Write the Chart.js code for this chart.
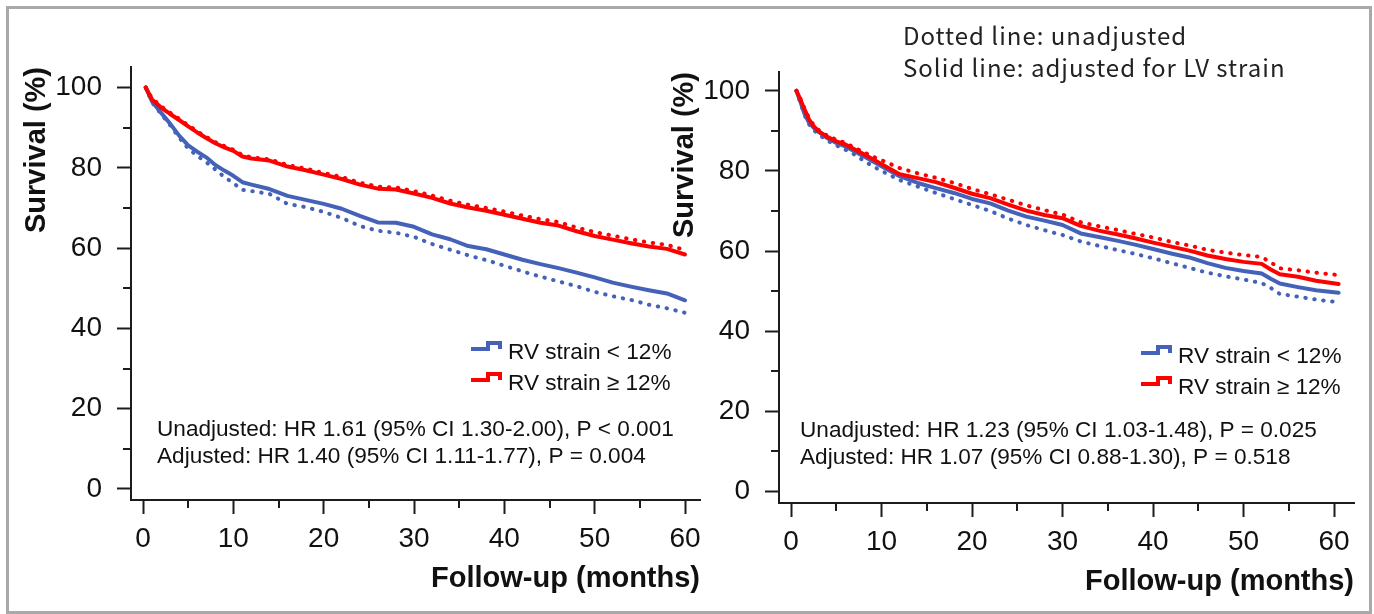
<!DOCTYPE html>
<html>
<head>
<meta charset="utf-8">
<script src="https://cdn.jsdelivr.net/npm/chart.js@4.4.1/dist/chart.umd.min.js"></script>
<style>
  html, body { margin: 0; padding: 0; background: #fff; }
  #frame { position: absolute; left: 6px; top: 6px; width: 1360px; height: 602px; border: 3px solid #a9a9a9; }
  canvas { position: absolute; left: 0; top: 0; }
</style>
</head>
<body>
<div id="frame"></div>
<canvas id="leftChart" width="1374" height="614"></canvas>
<canvas id="rightChart" width="1374" height="614"></canvas>
<script>
// ---- data ----
const xTicks = [0, 5, 10, 15, 20, 25, 30, 35, 40, 45, 50, 55, 60];
const yTicks = [0, 10, 20, 30, 40, 50, 60, 70, 80, 90, 100];
const legendLabels = ["RV strain < 12%", "RV strain \u2265 12%"];

// left panel
const leftMonths = [0.3, 1, 2, 3, 4, 5, 6, 7, 8, 9, 10, 11, 12, 14, 16, 18, 20, 22, 24, 26, 28, 30,
  32, 34, 36, 38, 40, 42, 44, 46, 48, 50, 52, 54, 56, 58, 60];
const leftBlueAdj = [100, 96.5, 93.7, 91.0, 88.0, 85.6, 84.0, 82.6, 80.7, 79.3, 78.0, 76.4, 75.8, 74.7, 73.0, 72.0, 71.0, 69.8, 68.0, 66.4, 66.3, 65.3,
  63.4, 62.2, 60.5, 59.7, 58.4, 57.1, 56.0, 55.0, 53.9, 52.7, 51.4, 50.4, 49.5, 48.7, 47.0];
const leftBlueUnadj = [100, 96.3, 93.4, 90.6, 87.5, 84.8, 83.0, 81.4, 79.6, 77.7, 76.2, 74.5, 74.2, 73.5, 71.0, 70.2, 69.0, 67.5, 65.5, 64.3, 63.8, 62.8,
  61.0, 59.6, 58.2, 57.0, 55.6, 54.2, 52.9, 51.7, 50.5, 49.1, 48.0, 47.1, 45.9, 45.0, 43.9];
const leftRedAdj = [100, 97.0, 95.0, 93.4, 91.9, 90.3, 88.8, 87.4, 86.1, 85.1, 84.2, 82.8, 82.3, 81.8, 80.3, 79.4, 78.3, 77.2, 75.8, 74.8, 74.6, 73.6,
  72.5, 71.1, 70.1, 69.3, 68.3, 67.3, 66.3, 65.6, 64.2, 63.0, 62.1, 61.2, 60.4, 59.8, 58.4];
const leftRedUnadj = [100, 97.3, 95.3, 93.7, 92.2, 90.6, 89.1, 87.7, 86.4, 85.4, 84.5, 83.2, 82.6, 82.1, 80.7, 79.8, 78.7, 77.7, 76.3, 75.3, 75.1, 74.2,
  73.1, 71.8, 70.8, 70.0, 69.1, 68.1, 67.2, 66.5, 65.1, 64.0, 63.1, 62.2, 61.4, 60.8, 59.5];
const leftStats = ["Unadjusted: HR 1.61 (95% CI 1.30-2.00), P < 0.001",
  "Adjusted: HR 1.40 (95% CI 1.11-1.77), P = 0.004"];

// right panel
const rightMonths = [0.6, 1, 1.5, 2, 2.5, 3, 4, 5, 6, 7, 8, 9, 10, 12, 14, 16, 18, 20, 22, 24, 26, 28, 30,
  32, 34, 36, 38, 40, 42, 44, 46, 48, 50, 52, 53, 54, 56, 58, 60.5];
const rightBlueAdj = [100, 97.5, 94.2, 92.0, 90.8, 89.8, 88.2, 87.0, 86.1, 84.9, 83.7, 82.4, 81.2, 78.7, 77.0, 75.7, 74.5, 73.0, 71.9, 70.1, 68.6, 67.6, 66.5,
  64.4, 63.5, 62.6, 61.6, 60.5, 59.4, 58.4, 57.0, 55.8, 55.0, 54.4, 53.1, 51.9, 51.0, 50.2, 49.6];
const rightBlueUnadj = [100, 97.2, 93.9, 91.6, 90.2, 89.2, 87.6, 86.4, 85.3, 84.1, 82.6, 81.2, 80.0, 77.7, 76.1, 74.5, 73.0, 71.5, 70.0, 68.1, 66.5, 65.2, 64.0,
  62.4, 61.3, 60.3, 59.3, 58.2, 57.0, 55.8, 54.6, 53.7, 52.9, 52.0, 50.8, 49.3, 48.6, 47.9, 47.2];
const rightRedAdj = [100, 98.0, 95.3, 92.8, 91.2, 90.0, 88.5, 87.4, 86.6, 85.4, 84.2, 83.0, 81.7, 79.2, 78.2, 77.2, 75.8, 74.3, 73.2, 71.6, 70.1, 69.0, 68.2,
  66.3, 65.1, 64.2, 63.2, 62.1, 61.1, 60.1, 58.9, 58.0, 57.3, 56.8, 55.4, 54.2, 53.6, 52.6, 51.8];
const rightRedUnadj = [100, 98.2, 95.6, 93.1, 91.5, 90.3, 88.8, 87.8, 87.0, 85.8, 84.7, 83.6, 82.7, 80.7, 79.4, 78.3, 77.0, 75.5, 74.2, 72.8, 71.4, 70.2, 69.1,
  67.2, 66.2, 65.3, 64.3, 63.4, 62.3, 61.4, 60.3, 59.6, 59.0, 58.5, 57.2, 55.7, 55.2, 54.6, 54.0];
const rightStats = ["Unadjusted: HR 1.23 (95% CI 1.03-1.48), P = 0.025",
  "Adjusted: HR 1.07 (95% CI 0.88-1.30), P = 0.518"];
const noteLines = ["Dotted line: unadjusted", "Solid line: adjusted for LV strain"];

// ---- styling ----
const BLUE = "#4462b8";
const RED = "#ff0000";
const AXIS = "#1c1c1c";
const TICK_FONT = { family: "Arial, 'Liberation Sans'", size: 28 };
const TITLE_FONT = { family: "Arial, 'Liberation Sans'", size: 29, weight: "bold" };

function toPoints(xs, ys) {
  return xs.map((x, i) => ({ x: x, y: ys[i] }));
}

function line(xs, ys, color, dotted) {
  return {
    data: toPoints(xs, ys),
    borderColor: color,
    borderWidth: 4,
    borderDash: dotted ? [0.5, 8.5] : [],
    borderCapStyle: "round",
    borderJoinStyle: "round",
    pointRadius: 0,
    tension: 0,
    fill: false
  };
}

// minor ticks (shorter) + legend + text notes
const extras = {
  id: "extras",
  afterDraw(chart, args, opts) {
    const c = chart.ctx;
    const area = chart.chartArea;
    const sx = chart.scales.x, sy = chart.scales.y;
    c.save();
    c.strokeStyle = AXIS;
    c.lineWidth = 2;
    xTicks.filter(v => v % 10 !== 0).forEach(v => {
      const px = Math.round(sx.getPixelForValue(v));
      c.beginPath(); c.moveTo(px, area.bottom); c.lineTo(px, area.bottom + 8); c.stroke();
    });
    yTicks.filter(v => v % 20 !== 0).forEach(v => {
      const py = Math.round(sy.getPixelForValue(v));
      c.beginPath(); c.moveTo(area.left - 8, py); c.lineTo(area.left, py); c.stroke();
    });

    // legend with step icons
    c.font = "22.6px Arial, 'Liberation Sans'";
    c.fillStyle = "#111";
    c.textBaseline = "alphabetic";
    [BLUE, RED].forEach((col, i) => {
      const y = opts.legendY + i * 31;
      const x = opts.legendX;
      c.strokeStyle = col;
      c.lineWidth = 4;
      c.lineCap = "square";
      c.beginPath();
      c.moveTo(x, y - 10); c.lineTo(x + 15, y - 10); c.lineTo(x + 15, y - 16);
      c.lineTo(x + 27, y - 16); c.lineTo(x + 27, y - 12);
      c.stroke();
      c.fillText(legendLabels[i], x + 35, y);
    });

    opts.stats.forEach((s, i) => c.fillText(s, opts.statsX, opts.statsY + i * 27));

    if (opts.note) {
      c.font = "24px 'Noto Sans CJK KR', 'Noto Sans'";
      c.letterSpacing = "1px";
      c.fillStyle = "#222";
      opts.note.forEach((s, i) => c.fillText(s, 903, 45 + i * 32));
    }
    c.restore();
  }
};

function buildChart(id, months, series, range, pad, extraOpts) {
  return new Chart(document.getElementById(id), {
    type: "line",
    data: {
      datasets: [
        line(months, series.redUnadj, RED, true),
        line(months, series.redAdj, RED, false),
        line(months, series.blueUnadj, BLUE, true),
        line(months, series.blueAdj, BLUE, false)
      ]
    },
    options: {
      responsive: false,
      animation: false,
      events: [],
      layout: { padding: pad },
      plugins: {
        legend: { display: false },
        tooltip: { enabled: false },
        extras: extraOpts
      },
      scales: {
        x: {
          type: "linear",
          min: range.xMin, max: range.xMax,
          afterBuildTicks: s => { s.ticks = xTicks.map(v => ({ value: v })); },
          afterFit: s => { s.height = 100; },
          grid: {
            drawOnChartArea: false, tickLength: 14, tickWidth: 2,
            tickColor: c => (c.tick && c.tick.value % 10 === 0) ? AXIS : "rgba(0,0,0,0)"
          },
          border: { color: AXIS, width: 2 },
          ticks: {
            font: TICK_FONT, color: "#111", padding: 8, maxRotation: 0, autoSkip: false,
            callback: v => (v % 10 === 0 ? String(v) : "")
          },
          title: { display: true, text: "Follow-up (months)", align: "end", color: "#111", font: TITLE_FONT, padding: { top: 0, bottom: 4 } }
        },
        y: {
          min: range.yMin, max: range.yMax,
          afterBuildTicks: s => { s.ticks = yTicks.map(v => ({ value: v })); },
          afterFit: s => { s.width = 120; },
          grid: {
            drawOnChartArea: false, tickLength: 14, tickWidth: 2,
            tickColor: c => (c.tick && c.tick.value % 20 === 0) ? AXIS : "rgba(0,0,0,0)"
          },
          border: { color: AXIS, width: 2 },
          ticks: {
            font: TICK_FONT, color: "#111", padding: 15, autoSkip: false,
            callback: v => (v % 20 === 0 ? String(v) : "")
          },
          title: { display: true, text: "Survival (%)", align: "end", color: "#111", font: TITLE_FONT, padding: { top: 9, bottom: 0 } }
        }
      }
    },
    plugins: [extras]
  });
}

buildChart("leftChart", leftMonths,
  { blueAdj: leftBlueAdj, blueUnadj: leftBlueUnadj, redAdj: leftRedAdj, redUnadj: leftRedUnadj },
  { xMin: -1.33, xMax: 61.66, yMin: -2.74, yMax: 105.1 },
  { left: 11, top: 67, right: 674, bottom: 14 },
  { legendX: 473, legendY: 359, stats: leftStats, statsX: 157, statsY: 436 });

buildChart("rightChart", rightMonths,
  { blueAdj: rightBlueAdj, blueUnadj: rightBlueUnadj, redAdj: rightRedAdj, redUnadj: rightRedUnadj },
  { xMin: -1.33, xMax: 62.2, yMin: -2.9, yMax: 104.7 },
  { left: 659, top: 72, right: 20, bottom: 11 },
  { legendX: 1143, legendY: 363, stats: rightStats, statsX: 800, statsY: 437, note: noteLines });
</script>
</body>
</html>
